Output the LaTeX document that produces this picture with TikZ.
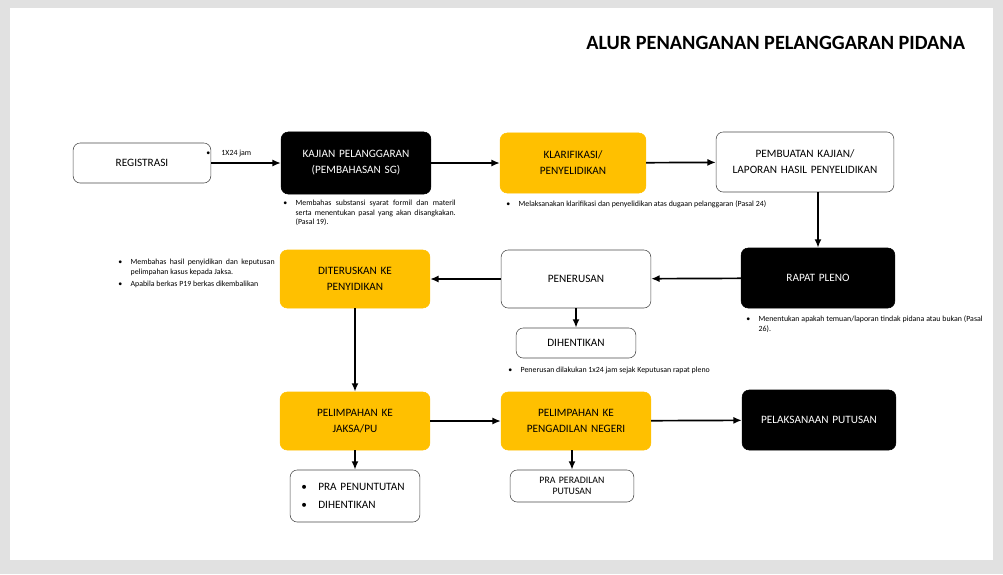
\documentclass[tikz,border=0pt]{standalone}
\usepackage{fontspec}
\setmainfont{Carlito}
\usetikzlibrary{arrows.meta, positioning}
\definecolor{pidyellow}{RGB}{255, 192, 0}
\definecolor{framegray}{RGB}{225, 225, 225}
\newcommand{\notebullet}[2]{\begin{tabular}{@{}l@{\hspace{6pt}}p{#1}@{}}\textbullet & #2\end{tabular}}

\begin{document}
\begin{tikzpicture}[x=0.025cm, y=-0.025cm,
    box/.style={rectangle, rounded corners=5pt, draw, align=center, font=\footnotesize, inner sep=2pt},
    plain/.style={box, fill=white, draw=black!70},
    dark/.style={box, fill=black, text=white},
    gold/.style={box, fill=pidyellow, draw=pidyellow},
    note/.style={font=\fontsize{5.6}{6.6}\selectfont, anchor=north west, inner sep=0pt, align=left},
    flow/.style={-{Latex[length=6pt, width=5pt]}, line width=1.2pt}]

    % Slide frame
    \fill[framegray] (0,0) rectangle (1003,574);
    \fill[white] (10,8) rectangle (993,560);
    \node[anchor=east, font=\Large\bfseries] (title) at (970,43) {ALUR PENANGANAN PELANGGARAN PIDANA};

    % Top row
    \node[plain, minimum width=140\pgflinewidth, text width=3.3cm, minimum height=1cm] (reg) at (142,163) {REGISTRASI};
    \node[dark, text width=3.6cm, minimum height=1.55cm] (kajian) at (356,163) {KAJIAN PELANGGARAN\\[2pt](PEMBAHASAN SG)};
    \node[gold, text width=3.5cm, minimum height=1.5cm] (klarif) at (573,163) {KLARIFIKASI/\\[2pt]PENYELIDIKAN};
    \node[plain, text width=4.3cm, minimum height=1.5cm] (pembuatan) at (805,162) {PEMBUATAN KAJIAN/\\[2pt]LAPORAN HASIL PENYELIDIKAN};

    % Middle row
    \node[dark, text width=3.7cm, minimum height=1.5cm] (pleno) at (818,278) {RAPAT PLENO};
    \node[plain, text width=3.6cm, minimum height=1.45cm] (penerusan) at (576,279) {PENERUSAN};
    \node[plain, text width=2.85cm, minimum height=0.75cm] (henti) at (576,343) {DIHENTIKAN};
    \node[gold, text width=3.6cm, minimum height=1.45cm] (diteruskan) at (355,279) {DITERUSKAN KE\\[2pt]PENYIDIKAN};

    % Bottom row
    \node[gold, text width=3.6cm, minimum height=1.45cm] (jaksa) at (355,421) {PELIMPAHAN KE\\[2pt]JAKSA/PU};
    \node[gold, text width=3.6cm, minimum height=1.45cm] (pengadilan) at (576,421) {PELIMPAHAN KE\\[2pt]PENGADILAN NEGERI};
    \node[dark, text width=3.7cm, minimum height=1.5cm] (putusan) at (819,420) {PELAKSANAAN PUTUSAN};
    \node[plain, text width=3.1cm, minimum height=1.3cm, align=left] (pratuntut) at (355,496) {\hspace{6pt}\textbullet\hspace{8pt}PRA PENUNTUTAN\\[3pt]\hspace{6pt}\textbullet\hspace{8pt}DIHENTIKAN};
    \node[plain, text width=2.95cm, minimum height=0.8cm, font=\scriptsize] (praperadilan) at (572,486) {PRA PERADILAN\\PUTUSAN};

    % Notes
    \node[note, anchor=west] (jam) at (206,153) {\textbullet\hspace{8pt}1X24 jam};
    \node[note] (notekajian) at (283,199) {\notebullet{4.0cm}{Membahas substansi syarat formil dan materil serta menentukan pasal yang akan disangkakan. (Pasal 19).}};
    \node[note] (noteklarif) at (506,200) {\notebullet{6.3cm}{Melaksanakan klarifikasi dan penyelidikan atas dugaan pelanggaran (Pasal 24)}};
    \node[note] (notediteruskan) at (118,258) {\notebullet{3.6cm}{Membahas hasil penyidikan dan keputusan pelimpahan kasus kepada Jaksa.}\\[1pt]\notebullet{3.6cm}{Apabila berkas P19 berkas dikembalikan}};
    \node[note] (notepleno) at (746,315) {\notebullet{5.6cm}{Menentukan apakah temuan/laporan tindak pidana atau bukan (Pasal 26).}};
    \node[note] (notepenerusan) at (508,366) {\notebullet{6.3cm}{Penerusan dilakukan 1x24 jam sejak Keputusan rapat pleno}};

    % Arrows
    \draw[flow] (reg) -- (kajian);
    \draw[flow] (kajian) -- (klarif);
    \draw[flow] (klarif) -- (pembuatan);
    \draw[flow] (pembuatan.south -| pleno) -- (pleno);
    \draw[flow] (pleno) -- (penerusan);
    \draw[flow] (penerusan) -- (diteruskan);
    \draw[flow] (penerusan) -- (henti);
    \draw[flow] (diteruskan) -- (jaksa);
    \draw[flow] (jaksa) -- (pengadilan);
    \draw[flow] (pengadilan) -- (putusan);
    \draw[flow] (jaksa) -- (pratuntut);
    \draw[flow] (pengadilan.south -| praperadilan) -- (praperadilan);
\end{tikzpicture}
\end{document}
